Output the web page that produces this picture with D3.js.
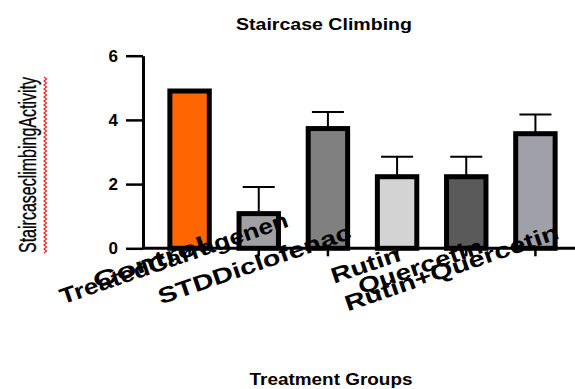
<!DOCTYPE html>
<html>
<head>
<meta charset="utf-8">
<script src="https://cdn.jsdelivr.net/npm/d3@7"></script>
<style>
  html, body { margin: 0; padding: 0; background: #fff; }
  svg { display: block; }
</style>
</head>
<body>
<div id="chart"></div>
<script>
// ---- data ----
const categories = ["Control", "TreatedCarragenen", "STDDiclofenac", "Rutin", "Quercetin", "Rutin+Quercetin"];
const means = [4.9, 1.08, 3.73, 2.23, 2.23, 3.57];
const errors = [0, 0.83, 0.52, 0.62, 0.62, 0.6];
const barColors = ["#FF6600", "#A0A0A4", "#808080", "#D3D3D3", "#5A5A5A", "#A0A0A8"];
const yTicks = [0, 2, 4, 6];
const titleText = "Staircase Climbing";
const xTitleText = "Treatment Groups";
const yTitleText = "StaircaseclimbingActivity";

// ---- layout ----
const W = 575, H = 389;
const svg = d3.select("#chart").append("svg").attr("width", W).attr("height", H);

const y = d3.scaleLinear().domain([0, 6]).range([248.3, 55.7]);
const x = d3.scaleBand().domain(categories).range([155, 570]).padding(0);
const barW = x.bandwidth() * 0.57;
const cx = d => x(d) + x.bandwidth() / 2;

// title
svg.append("text")
  .attr("x", 324).attr("y", 30)
  .attr("text-anchor", "middle")
  .attr("font-family", "Liberation Sans, Arial, sans-serif")
  .attr("font-weight", "bold").attr("font-size", 17)
  .attr("textLength", 176).attr("lengthAdjust", "spacingAndGlyphs")
  .text(titleText);

// bars
const g = svg.append("g");
categories.forEach((c, i) => {
  const top = y(means[i]);
  if (errors[i] > 0) {
    const et = y(means[i] + errors[i]);
    g.append("line").attr("x1", cx(c)).attr("x2", cx(c)).attr("y1", top).attr("y2", et)
      .attr("stroke", "#000").attr("stroke-width", 2);
    g.append("line").attr("x1", cx(c) - 16).attr("x2", cx(c) + 16).attr("y1", et).attr("y2", et)
      .attr("stroke", "#000").attr("stroke-width", 2);
  }
  g.append("rect")
    .attr("x", cx(c) - barW / 2).attr("y", top)
    .attr("width", barW).attr("height", y(0) - top)
    .attr("fill", barColors[i]).attr("stroke", "#000").attr("stroke-width", 5);
});

// y axis
const yAxis = svg.append("g").attr("transform", "translate(143,0)")
  .call(d3.axisLeft(y).tickValues(yTicks).tickSize(17).tickSizeOuter(0).tickPadding(8).tickFormat(d3.format("d")));
yAxis.select(".domain").attr("stroke", "#000").attr("stroke-width", 3);
yAxis.selectAll(".tick line").attr("stroke", "#000").attr("stroke-width", 2.5);
yAxis.selectAll(".tick text")
  .attr("font-family", "Liberation Sans, Arial, sans-serif")
  .attr("font-weight", "bold").attr("font-size", 17).attr("fill", "#000");

// x axis
const xAxis = svg.append("g").attr("transform", `translate(0,${y(0)})`)
  .call(d3.axisBottom(x).tickSize(8).tickSizeOuter(0).tickFormat(""));
xAxis.select(".domain").attr("d", `M143,0H575`).attr("stroke", "#000").attr("stroke-width", 3);
xAxis.selectAll(".tick line").attr("stroke", "#000").attr("stroke-width", 2.5);

// x tick labels (rotated)
const labelLen = [118, 240, 203, 72, 130, 225];
const labelNudge = [[18, 2], [31, -22], [25, -10], [5, 12], [18, 4], [25, -10]];
categories.forEach((c, i) => {
  const px = cx(c) + labelNudge[i][0], py = y(0) + labelNudge[i][1];
  svg.append("text")
    .attr("transform", `translate(${px},${py}) rotate(-19)`)
    .attr("text-anchor", "end")
    .attr("font-family", "Liberation Sans, Arial, sans-serif")
    .attr("font-weight", "bold").attr("font-size", 22)
    .attr("textLength", labelLen[i]).attr("lengthAdjust", "spacingAndGlyphs")
    .attr("fill", "#000")
    .text(c);
});

// x title
svg.append("text")
  .attr("x", 331).attr("y", 385)
  .attr("text-anchor", "middle")
  .attr("font-family", "Liberation Sans, Arial, sans-serif")
  .attr("font-weight", "bold").attr("font-size", 17)
  .attr("textLength", 163).attr("lengthAdjust", "spacingAndGlyphs")
  .text(xTitleText);

// y title
svg.append("text")
  .attr("transform", "translate(36,165) rotate(-90)")
  .attr("text-anchor", "middle")
  .attr("font-family", "Liberation Sans Narrow, Arial Narrow, sans-serif")
  .attr("font-size", 23)
  .attr("textLength", 176).attr("lengthAdjust", "spacingAndGlyphs")
  .attr("fill", "#000").attr("stroke", "#000").attr("stroke-width", 0.3)
  .text(yTitleText);
// red spell-check squiggle beside the rotated label
const sq = d3.range(0, 177, 2).map((t, k) => [44 + (k % 2 ? 2.5 : 0), 253 - t]);
svg.append("path").attr("d", d3.line()(sq)).attr("fill", "none")
  .attr("stroke", "#FF2020").attr("stroke-width", 1.2);
</script>
</body>
</html>
